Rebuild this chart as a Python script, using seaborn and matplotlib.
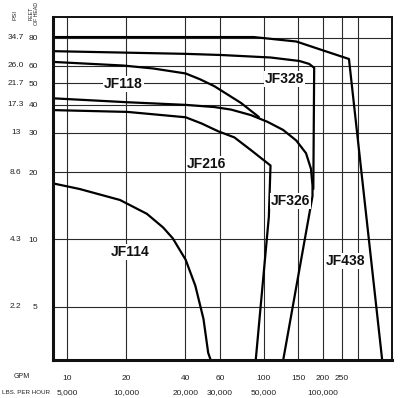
import matplotlib
matplotlib.use("Agg")
import matplotlib.pyplot as plt
import pandas as pd
import seaborn as sns

# -----------------------
# Pump curves: flow (GPM) vs head (feet)
# -----------------------
jf438_gpm = [8.5, 89, 116.7, 146.2, 191, 270.8, 399]
jf438_ft = [80.5, 80.5, 78.5, 76.9, 71.1, 64.2, 2.9]

jf328_gpm = [8.5, 40, 60.7, 108.2, 151.7, 170.2, 180.3, 178.5]
jf328_ft = [69.6, 67.7, 66.9, 65.2, 62.9, 61.0, 58.6, 16.8]

jf118_gpm = [8.5, 19.4, 27.5, 40.1, 47.4, 56.1, 76.6, 94.4]
jf118_ft = [62.3, 60.0, 58.2, 55.3, 52.1, 48.5, 40.8, 35.3]

jf326_gpm = [8.5, 20.3, 40.1, 56.3, 68.2, 86, 104.3, 125.3, 146.2, 163.9, 173.6, 176.8, 176.8, 125.7]
jf326_ft = [42.8, 41.1, 40.0, 39.1, 38.1, 36.0, 33.6, 30.9, 27.7, 24.3, 20.7, 17.4, 15.6, 2.9]

jf216_gpm = [8.5, 20.3, 40.1, 48.4, 58.5, 70.9, 86, 108.2, 106.1, 91.1]
jf216_ft = [37.9, 37.2, 35.2, 33.0, 30.5, 28.6, 25.1, 21.4, 12.6, 2.9]

jf114_gpm = [8.5, 11.6, 18.6, 25.5, 30.8, 34.5, 40.1, 44.9, 49.4, 52.2, 53.6]
jf114_ft = [17.8, 16.8, 15.0, 13.0, 11.3, 10.1, 8.1, 6.2, 4.4, 3.1, 2.9]

# label positions (GPM, feet)
pump_names = ["JF438", "JF328", "JF118", "JF326", "JF216", "JF114"]
label_gpm = [258.7, 128.1, 19.4, 137.1, 51.3, 20.9]
label_ft = [8.0, 52.1, 49.5, 14.8, 21.8, 8.8]

# axis ticks
gpm_ticks = [10, 20, 40, 60, 100, 150, 200, 250, 300]
gpm_labels = ["10", "20", "40", "60", "100", "150", "200", "250", ""]
lbs_ticks = [10, 20, 40, 60, 100, 200]
lbs_labels = ["5,000", "10,000", "20,000", "30,000", "50,000", "100,000"]
ft_ticks = [5, 10, 20, 30, 40, 50, 60, 80]
psi_labels = ["2.2", "4.3", "8.6", "13", "17.3", "21.7", "26.0", "34.7"]

# -----------------------
# Build long table
# -----------------------
curves = {
    "JF438": (jf438_gpm, jf438_ft),
    "JF328": (jf328_gpm, jf328_ft),
    "JF118": (jf118_gpm, jf118_ft),
    "JF326": (jf326_gpm, jf326_ft),
    "JF216": (jf216_gpm, jf216_ft),
    "JF114": (jf114_gpm, jf114_ft),
}
rows = []
for name, (g, f) in curves.items():
    for i, (a, b) in enumerate(zip(g, f)):
        rows.append({"pump": name, "order": i, "gpm": a, "feet": b})
df = pd.DataFrame(rows)

# -----------------------
# Plot
# -----------------------
sns.set_style("white")
plt.rcParams["font.family"] = ["Liberation Sans", "DejaVu Sans"]

fig = plt.figure(figsize=(4, 3.98), dpi=100)
ax = fig.add_axes([53 / 400, 1 - 360 / 398, 339 / 400, 343 / 398])

ax.set_xscale("log")
ax.set_yscale("log")
ax.set_xlim(8.5, 448)
ax.set_ylim(2.88, 99)

sns.lineplot(data=df, x="gpm", y="feet", units="pump", estimator=None,
             sort=False, color="black", linewidth=1.6, ax=ax, legend=False)

ax.set_xticks(gpm_ticks, gpm_labels)
ax.set_yticks(ft_ticks, [str(t) for t in ft_ticks])
ax.minorticks_off()
ax.grid(True, which="major", color="#2a2a2a", linewidth=0.8)
ax.set_axisbelow(True)
ax.tick_params(axis="both", length=0, labelsize=6, colors="#222222")
ax.tick_params(axis="y", pad=11)
ax.tick_params(axis="x", pad=11)
ax.set_xlabel("")
ax.set_ylabel("")

for side in ["left", "bottom"]:
    ax.spines[side].set_linewidth(2.2)
for side in ["top", "right"]:
    ax.spines[side].set_linewidth(1.4)
for s in ax.spines.values():
    s.set_color("#111111")

# second y column: PSI
ytr = ax.get_yaxis_transform()
for t, lab in zip(ft_ticks, psi_labels):
    ax.text(-0.11, t, lab, transform=ytr, ha="center", va="center",
            fontsize=6, color="#222222", clip_on=False)

# second x row: lbs per hour
xtr = ax.get_xaxis_transform()
for t, lab in zip(lbs_ticks, lbs_labels):
    ax.text(t, -0.094, lab, transform=xtr, ha="center", va="center",
            fontsize=6, color="#222222", clip_on=False)

fig.text(22 / 400, 1 - 377 / 398, "GPM", ha="center", va="center",
         fontsize=5, color="#222222")
fig.text(26 / 400, 1 - 392 / 398, "LBS. PER HOUR", ha="center", va="center",
         fontsize=4.5, color="#222222")
fig.text(15 / 400, 1 - 15 / 398, "PSI", ha="center", va="center",
         rotation=90, fontsize=4.5, color="#222222")
fig.text(34 / 400, 1 - 13 / 398, "FEET\nOF HEAD", ha="center", va="center",
         rotation=90, fontsize=3.8, color="#222222", linespacing=1.0)

# pump labels
for name, gx, fy in zip(pump_names, label_gpm, label_ft):
    ax.text(gx, fy, name, ha="center", va="center", fontsize=10,
            fontweight="bold", color="#111111",
            bbox=dict(facecolor="white", edgecolor="none", pad=0.6))

fig.savefig("out.png", dpi=100, facecolor="white")
